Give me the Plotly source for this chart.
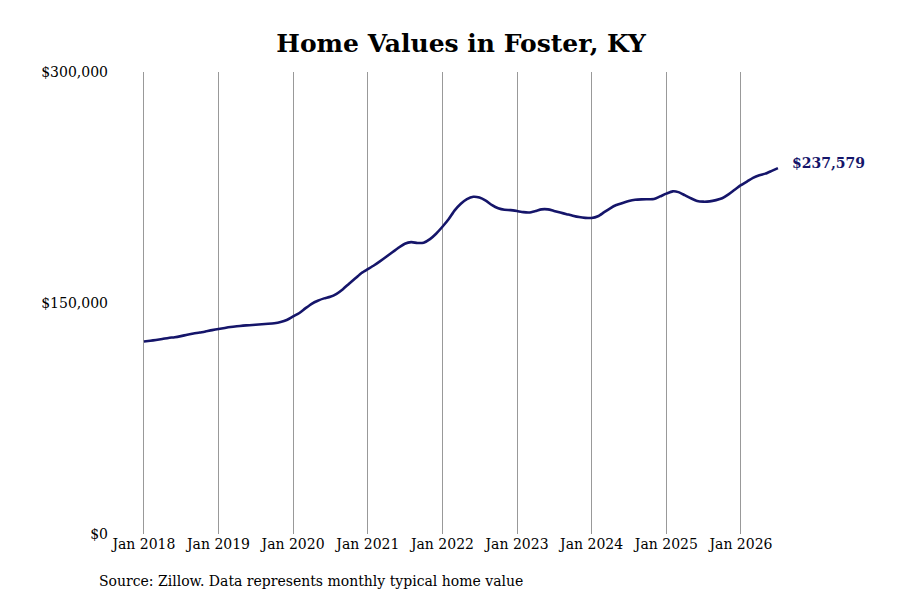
import pandas as pd
import plotly.graph_objects as go

# Monthly typical home value, Foster KY
months = pd.date_range("2018-01-01", "2026-07-01", freq="MS")
home_values = [
    125000, 125500, 126000, 126600, 127300, 127800, 128500, 129400, 130200, 130800, 131600, 132400,
    133100, 133800, 134400, 134900, 135300, 135600, 135900, 136200, 136500, 136900, 137700, 139000,
    141300, 143500, 146500, 149500, 151500, 153000, 154000, 156000, 159000, 162500, 166000, 169500,
    172000, 174500, 177000, 180000, 183000, 186000, 188500, 189500, 189000, 189200, 191500, 195000,
    199500, 204500, 210000, 214500, 217500, 219000, 218500, 216500, 213500, 211500, 210500, 210300,
    209700, 209000, 208800, 209700, 210800, 210800, 209800, 208700, 207700, 206700, 205800, 205300,
    205200, 206300, 208800, 211500, 213600, 215000, 216200, 217000, 217300, 217400, 217500, 219200,
    221000, 222500, 222000, 220000, 218000, 216200, 215800, 216000, 216800, 218000, 220500, 223500,
    226500, 229000, 231300, 233000, 234000, 235800, 237579,
]

x_ticks = pd.date_range("2018-01-01", "2026-01-01", freq="YS")
x_tick_labels = [f"Jan {d.year}" for d in x_ticks]
y_ticks = [0, 150000, 300000]
y_tick_labels = ["$0", "$150,000", "$300,000"]

line_color = "#15156a"
font = "DejaVu Serif"

fig = go.Figure()
fig.add_trace(go.Scatter(
    x=months,
    y=home_values,
    mode="lines",
    line=dict(color=line_color, width=2.6, shape="spline", smoothing=0.6),
    hovertemplate="%{x|%b %Y}: $%{y:,.0f}<extra></extra>",
))

# Latest value label at the end of the line
fig.add_annotation(
    x=months[-1], y=home_values[-1],
    text=f"<b>${home_values[-1]:,}</b>",
    showarrow=False, xanchor="left", yanchor="middle",
    xshift=12, yshift=5,
    font=dict(family=font, size=14, color=line_color),
)

# Source note
fig.add_annotation(
    x=-0.034, y=-0.102, xref="paper", yref="paper",
    text="Source: Zillow. Data represents monthly typical home value",
    showarrow=False, xanchor="left", yanchor="middle",
    font=dict(family=font, size=14, color="black"),
)

# page body adds an 8px offset, so the figure is 892x592
fig.update_layout(
    width=892, height=592,
    title=dict(text="<b>Home Values in Foster, KY</b>", x=0.508, xanchor="center",
               y=0.941, yanchor="middle",
               font=dict(family=font, size=25, color="black")),
    font=dict(family=font, size=14, color="black"),
    plot_bgcolor="white", paper_bgcolor="white",
    margin=dict(l=112, r=100, t=64, b=66),
    showlegend=False,
    xaxis=dict(
        range=["2017-09-06", "2026-10-17"],
        tickvals=x_ticks, ticktext=x_tick_labels,
        showgrid=True, gridcolor="#999999", gridwidth=1,
        zeroline=False, showline=False, ticks="",
        tickfont=dict(size=14),
    ),
    yaxis=dict(
        range=[0, 300000],
        tickvals=y_ticks, ticktext=y_tick_labels,
        showgrid=False, zeroline=False, showline=False, ticks="",
        ticklabelstandoff=11,
        tickfont=dict(size=14),
    ),
)

fig.write_html("out.html")
